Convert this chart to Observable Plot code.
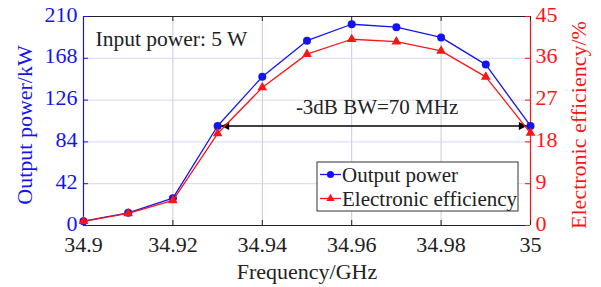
<!DOCTYPE html>
<html>
<head>
<meta charset="utf-8">
<script src="https://cdn.jsdelivr.net/npm/d3@7"></script>
<script src="https://cdn.jsdelivr.net/npm/@observablehq/plot@0.6"></script>
<style>
  body { margin: 0; background: white; }
  #chart svg { display: block; }
</style>
</head>
<body>
<div id="chart"></div>
<script>
// Data
const freq = [34.9, 34.91, 34.92, 34.93, 34.94, 34.95, 34.96, 34.97, 34.98, 34.99, 35.0];
const power = [4.3, 12.7, 27.5, 100, 149.5, 185.7, 202.2, 199.3, 189, 161.7, 100];      // kW
const efficiency = [0.9, 2.6, 5.4, 19.8, 29.7, 36.9, 40.1, 39.6, 37.6, 32.0, 19.9];    // %
const xTicks = [34.9, 34.92, 34.94, 34.96, 34.98, 35];
const powerTicks = [0, 42, 84, 126, 168, 210];
const effTicks = [0, 9, 18, 27, 36, 45];
const seriesNames = ["Output power", "Electronic efficiency"];
const inputLabel = "Input power: 5 W";
const bwLabel = "-3dB BW=70 MHz";

const W = 601, H = 287;
const mL = 83, mR = 71, mT = 16, mB = 62;
const fw = W - mL - mR, fh = H - mT - mB;
const BLUE = "#1414f0", RED = "#ff1414";
const FONT = "'Liberation Serif', 'Times New Roman', serif";
const effScale = 210 / 45; // map efficiency onto the power axis

const powerData = freq.map((f, i) => ({f, v: power[i]}));
const effData = freq.map((f, i) => ({f, v: efficiency[i] * effScale}));

const plot = Plot.plot({
  width: W, height: H,
  marginLeft: mL, marginRight: mR, marginTop: mT, marginBottom: mB,
  x: {domain: [34.9, 35]},
  y: {domain: [0, 210]},
  style: `font-family: ${FONT}; font-size: 22px; background: white; overflow: visible;`,
  marks: [
    Plot.gridX(xTicks.slice(1, -1), {stroke: "#c9cadb", strokeOpacity: 1, strokeWidth: 1}),
    Plot.gridY(powerTicks.slice(1, -1), {stroke: "#d6d8f6", strokeOpacity: 1, strokeWidth: 1}),
    // frame
    Plot.ruleY([0], {stroke: "#222", strokeWidth: 1.2}),
    Plot.ruleY([210], {stroke: "#222", strokeWidth: 1.2}),
    Plot.ruleX([34.9], {stroke: BLUE, strokeWidth: 1.2}),
    Plot.ruleX([35], {stroke: RED, strokeWidth: 1.2}),
    // inward ticks
    Plot.tickX(xTicks, {x: d => d, insetTop: fh - 5, stroke: "#222"}),
    Plot.tickX(xTicks, {x: d => d, insetBottom: fh - 5, stroke: "#222"}),
    Plot.tickY(powerTicks, {y: d => d, insetRight: fw - 5, stroke: BLUE}),
    Plot.tickY(powerTicks, {y: d => d, insetLeft: fw - 5, stroke: RED}),
    // axes labels
    Plot.axisX(xTicks, {tickSize: 0, tickPadding: 11, tickFormat: d => String(+d.toFixed(2)), fill: "#222", label: null, fontSize: 22}),
    Plot.axisY(powerTicks, {anchor: "left", tickSize: 0, tickPadding: 6, dy: -2, fill: BLUE, label: null, fontSize: 22}),
    Plot.axisY(powerTicks, {anchor: "right", tickSize: 0, tickPadding: 5, dy: -2, fill: RED, label: null, fontSize: 22,
      tickFormat: d => String(Math.round(d / effScale)), textAnchor: "start"}),
    Plot.text(["Frequency/GHz"], {frameAnchor: "bottom", dy: 46, fill: "#222", fontSize: 22, lineAnchor: "middle"}),
    Plot.text(["Output power/kW"], {frameAnchor: "left", dx: -59, dy: 4, rotate: -90, fill: BLUE, fontSize: 22, textAnchor: "middle", lineAnchor: "middle"}),
    Plot.text(["Electronic efficiency/%"], {frameAnchor: "right", dx: 48, dy: 4, rotate: -90, fill: RED, fontSize: 22, textAnchor: "middle", lineAnchor: "middle"}),
    // annotations
    Plot.text([inputLabel], {frameAnchor: "top-left", dx: 12, dy: 14, textAnchor: "start", lineAnchor: "top", fill: "#222", fontSize: 21.5}),
    Plot.link([0], {x1: () => freq[3], x2: () => freq[10], y1: () => power[3], y2: () => power[10], stroke: "#000", strokeWidth: 1.5}),
    Plot.text([bwLabel], {x: () => (freq[3] + freq[10]) / 2, y: () => power[3], dy: -19, dx: 3, fill: "#222", fontSize: 21, lineAnchor: "middle"}),
    // series
    Plot.line(powerData, {x: "f", y: "v", stroke: BLUE, strokeWidth: 1.3}),
    Plot.dot(powerData, {x: "f", y: "v", fill: BLUE, r: 4}),
    Plot.line(effData, {x: "f", y: "v", stroke: RED, strokeWidth: 1.3}),
    Plot.dot(effData, {x: "f", y: "v", fill: RED, symbol: "triangle", r: 3.6})
  ]
});

document.getElementById("chart").appendChild(plot);

// filled arrowheads on the bandwidth link
const svg = d3.select(plot);
const defs = svg.append("defs");
defs.append("marker")
  .attr("id", "bwArrow")
  .attr("viewBox", "0 0 10 10")
  .attr("refX", 14.5).attr("refY", 5)
  .attr("markerUnits", "userSpaceOnUse")
  .attr("markerWidth", 12).attr("markerHeight", 8)
  .attr("orient", "auto-start-reverse")
  .append("path").attr("d", "M0,0L10,5L0,10z").attr("fill", "#000");
svg.selectAll("g[aria-label=link] path")
  .attr("marker-start", "url(#bwArrow)")
  .attr("marker-end", "url(#bwArrow)");

// legend box
const lg = svg.append("g").attr("font-family", FONT).attr("font-size", 21).attr("text-anchor", "start");
lg.append("rect").attr("x", 317).attr("y", 162).attr("width", 201).attr("height", 49)
  .attr("fill", "white").attr("stroke", "#333").attr("stroke-width", 1);
const rows = [
  {name: seriesNames[0], color: BLUE, sym: d3.symbolCircle, size: 40, y: 174.5, base: 181.5},
  {name: seriesNames[1], color: RED, sym: d3.symbolTriangle, size: 30, y: 198.5, base: 205.5}
];
for (const r of rows) {
  lg.append("line").attr("x1", 320).attr("x2", 341).attr("y1", r.y).attr("y2", r.y)
    .attr("stroke", r.color).attr("stroke-width", 1.3);
  lg.append("path").attr("d", d3.symbol(r.sym, r.size)()).attr("transform", `translate(330.5,${r.y})`).attr("fill", r.color);
  lg.append("text").attr("x", 342).attr("y", r.base).attr("fill", "#222").text(r.name);
}
</script>
</body>
</html>
